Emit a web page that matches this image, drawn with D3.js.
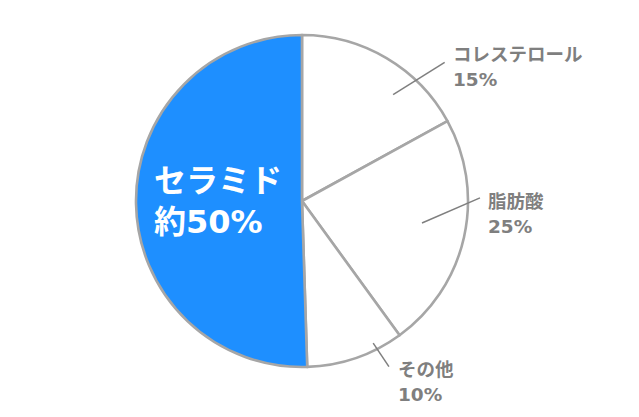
<!DOCTYPE html>
<html><head><meta charset="utf-8">
<script src="https://cdn.jsdelivr.net/npm/d3@7"></script>
<style>
html,body{margin:0;padding:0;background:#fff;}
svg{display:block;font-family:"DejaVu Sans","Noto Sans CJK JP",sans-serif;}
</style></head>
<body><svg id="c" width="639" height="417"></svg>
<script>
// Data (drawn slice sizes) and the printed labels
const categories = ["コレステロール", "脂肪酸", "その他", "セラミド"];
const values = [17, 23, 9.5, 50.5];
const valueLabels = ["15%", "25%", "10%", "約50%"];
const fills = ["#ffffff", "#ffffff", "#ffffff", "#1e8fff"];

const svg = d3.select("#c");
const cx = 302, cy = 201, R = 166;
const g = svg.append("g").attr("transform", `translate(${cx},${cy})`);

const pie = d3.pie().sort(null).value(d => d.v).startAngle(0).endAngle(2 * Math.PI);
const arcs = pie(categories.map((c, i) => ({c, v: values[i], f: fills[i], l: valueLabels[i]})));
const arc = d3.arc().innerRadius(0).outerRadius(R);

g.selectAll("path.s").data(arcs).join("path")
  .attr("class", "s")
  .attr("d", arc)
  .attr("fill", d => d.data.f)
  .attr("stroke", "#a6a6a6")
  .attr("stroke-width", 2.6)
  .attr("stroke-linejoin", "round");

// leader lines: [angle deg, radius] start and end (layout)
const leaders = [
  {i: 0, a0: 40.6, r0: 140, a1: 45.8, r1: 199, tx: 453, ty: 54},
  {i: 1, a0: 100.4, r0: 122, a1: 89, r1: 178, tx: 488, ty: 201},
  {i: 2, a0: 153.4, r0: 159, a1: 152.3, r1: 187, tx: 398, ty: 369}
];
const rad = a => a * Math.PI / 180;
leaders.forEach(L => {
  const p0 = d3.pointRadial(rad(L.a0), L.r0);
  const p1 = d3.pointRadial(rad(L.a1), L.r1);
  g.append("line")
    .attr("x1", p0[0]).attr("y1", p0[1]).attr("x2", p1[0]).attr("y2", p1[1])
    .attr("stroke", "#7f7f7f").attr("stroke-width", 1.5);
  const t = svg.append("text")
    .attr("x", L.tx).attr("y", L.ty)
    .attr("fill", "#7f7f7f")
    .attr("font-size", 18.5)
    .attr("font-weight", "bold")
    .attr("dominant-baseline", "central");
  t.append("tspan").attr("x", L.tx).attr("dy", 0).text(arcs[L.i].data.c);
  t.append("tspan").attr("x", L.tx).attr("dy", 25).text(arcs[L.i].data.l);
});

// big label inside ceramide slice
const big = svg.append("text")
  .attr("x", 154).attr("y", 181)
  .attr("fill", "#ffffff")
  .attr("font-size", 32)
  .attr("font-weight", "bold")
  .attr("dominant-baseline", "central");
big.append("tspan").attr("x", 154).attr("dy", 0).text(arcs[3].data.c);
big.append("tspan").attr("x", 154).attr("dy", 41).text(arcs[3].data.l);
</script></body></html>
